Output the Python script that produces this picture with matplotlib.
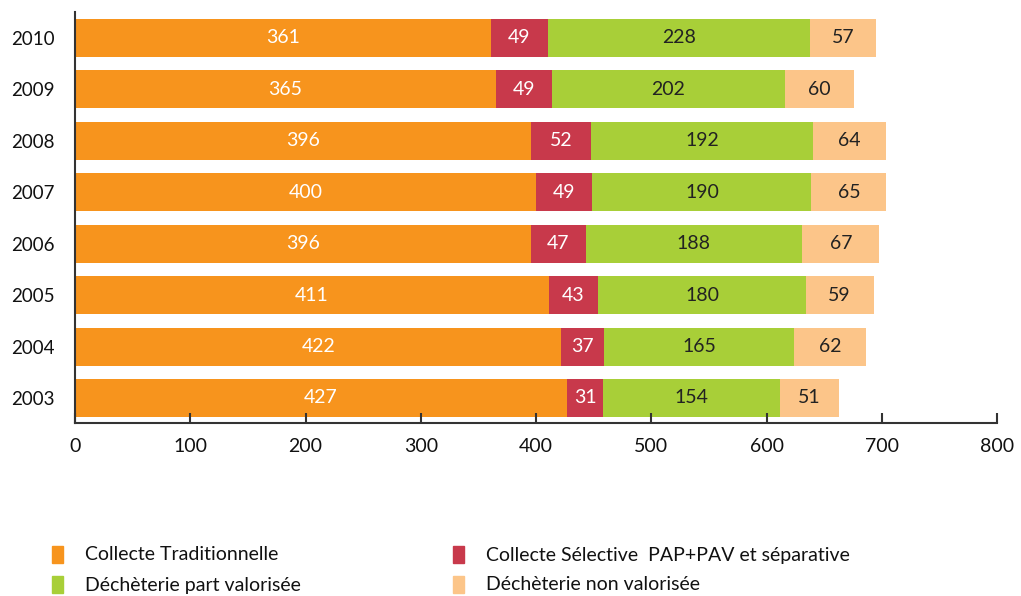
import matplotlib.pyplot as plt
from matplotlib.patches import Rectangle
import numpy as np

plt.rcParams['font.family'] = ['Lato', 'DejaVu Sans']

years = ['2003', '2004', '2005', '2006', '2007', '2008', '2009', '2010']
collecte_trad = [427, 422, 411, 396, 400, 396, 365, 361]
collecte_sel = [31, 37, 43, 47, 49, 52, 49, 49]
decheterie_val = [154, 165, 180, 188, 190, 192, 202, 228]
decheterie_non = [51, 62, 59, 67, 65, 64, 60, 57]

series = [
    ('Collecte Traditionnelle', collecte_trad, '#F7941D', 'white'),
    ('Collecte Sélective  PAP+PAV et séparative', collecte_sel, '#C8394B', 'white'),
    ('Déchèterie part valorisée', decheterie_val, '#A8CF38', '#222222'),
    ('Déchèterie non valorisée', decheterie_non, '#FCC589', '#222222'),
]

fig = plt.figure(figsize=(10.21, 5.96), dpi=100)
ax = fig.add_axes([0.0735, 0.2903, 0.903, 0.6897])

y = np.arange(len(years))
left = np.zeros(len(years))
for name, vals, color, tcolor in series:
    vals = np.array(vals)
    ax.barh(y, vals, left=left, height=0.74, color=color, label=name)
    for yi, l, v in zip(y, left, vals):
        ax.text(l + v / 2, yi, str(v), ha='center', va='center',
                color=tcolor, fontsize=14)
    left = left + vals

ax.set_xlim(0, 800)
ax.set_ylim(-0.486, 7.506)
ax.set_xticks(range(0, 801, 100))
ax.set_yticks(y)
ax.set_yticklabels(years, ha='left')
ax.tick_params(axis='y', length=0, pad=46, labelsize=13.5, labelcolor='#111111')
ax.tick_params(axis='x', direction='in', length=7, width=1.5, color='#333333',
               labelsize=14, labelcolor='#111111', pad=11)
for s in ['top', 'right']:
    ax.spines[s].set_visible(False)
for s in ['left', 'bottom']:
    ax.spines[s].set_color('#333333')
    ax.spines[s].set_linewidth(1.5)

# legend
pos = [(52, 555), (453, 555), (52, 585), (453, 585)]
W, H = 1021, 596
for (name, vals, color, tcolor), (px, py) in zip(series, pos):
    fig.add_artist(Rectangle((px / W, 1 - (py + 8) / H), 11 / W, 17 / H,
                             transform=fig.transFigure, color=color))
    fig.text((px + 33) / W, 1 - py / H, name, ha='left', va='center',
             fontsize=14, color='#111111')

fig.savefig('out.png', dpi=100)
